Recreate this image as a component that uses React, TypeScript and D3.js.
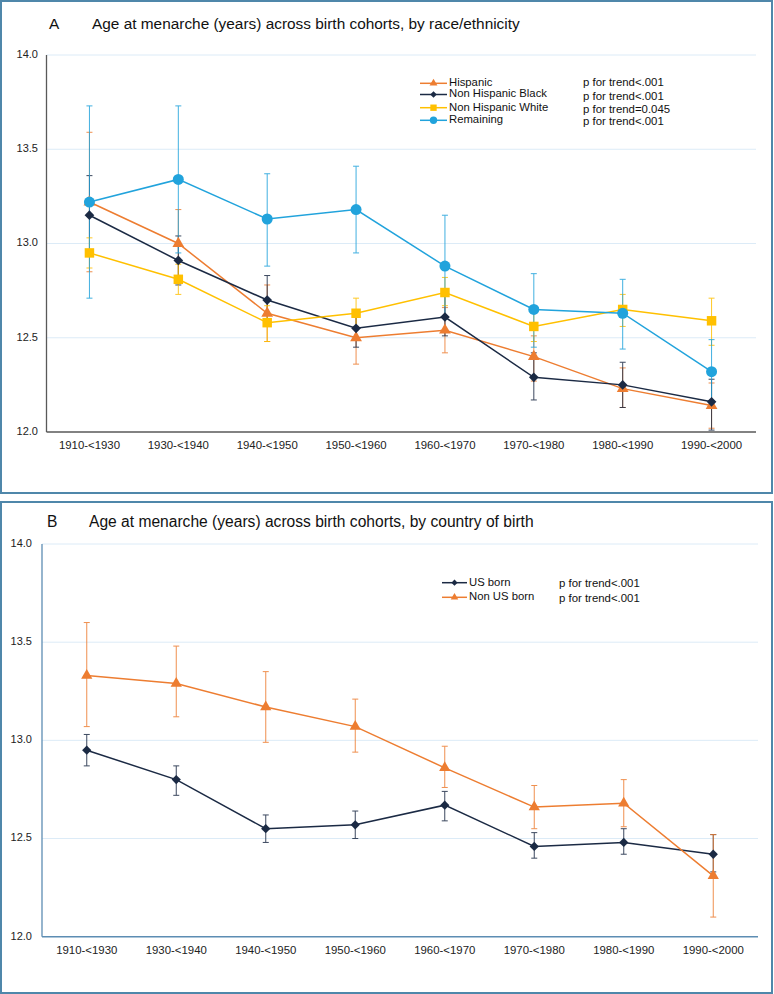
import React from "react";
import * as d3 from "d3";

// Birth cohorts shared by both panels
const cohorts = [
  "1910-<1930",
  "1930-<1940",
  "1940-<1950",
  "1950-<1960",
  "1960-<1970",
  "1970-<1980",
  "1980-<1990",
  "1990-<2000",
];

const yTicks = [12.0, 12.5, 13.0, 13.5, 14.0];

// Panel A: race/ethnicity (mean age at menarche with 95% CI)
const hispanic = [13.22, 13.0, 12.63, 12.5, 12.54, 12.4, 12.23, 12.14];
const hispanicLo = [12.85, 12.83, 12.48, 12.36, 12.42, 12.27, 12.13, 12.02];
const hispanicHi = [13.59, 13.18, 12.78, 12.64, 12.66, 12.51, 12.34, 12.26];

const nhBlack = [13.15, 12.91, 12.7, 12.55, 12.61, 12.29, 12.25, 12.16];
const nhBlackLo = [12.94, 12.78, 12.56, 12.45, 12.51, 12.17, 12.13, 12.01];
const nhBlackHi = [13.36, 13.04, 12.83, 12.64, 12.72, 12.42, 12.37, 12.28];

const nhWhite = [12.95, 12.81, 12.58, 12.63, 12.74, 12.56, 12.65, 12.59];
const nhWhiteLo = [12.87, 12.73, 12.48, 12.56, 12.67, 12.48, 12.56, 12.46];
const nhWhiteHi = [13.03, 12.89, 12.67, 12.71, 12.82, 12.64, 12.73, 12.71];

const remaining = [13.22, 13.34, 13.13, 13.18, 12.88, 12.65, 12.63, 12.32];
const remainingLo = [12.71, 12.95, 12.88, 12.95, 12.61, 12.45, 12.44, 12.14];
const remainingHi = [13.73, 13.73, 13.37, 13.41, 13.15, 12.84, 12.81, 12.49];

const trendA = ["p for trend<.001", "p for trend<.001", "p for trend=0.045", "p for trend<.001"];

// Panel B: country of birth
const usBorn = [12.95, 12.8, 12.55, 12.57, 12.67, 12.46, 12.48, 12.42];
const usBornLo = [12.87, 12.72, 12.48, 12.5, 12.59, 12.4, 12.42, 12.33];
const usBornHi = [13.03, 12.87, 12.62, 12.64, 12.74, 12.53, 12.55, 12.52];

const nonUsBorn = [13.33, 13.29, 13.17, 13.07, 12.86, 12.66, 12.68, 12.31];
const nonUsBornLo = [13.07, 13.12, 12.99, 12.94, 12.76, 12.55, 12.56, 12.1];
const nonUsBornHi = [13.6, 13.48, 13.35, 13.21, 12.97, 12.77, 12.8, 12.52];

const trendB = ["p for trend<.001", "p for trend<.001"];

type Series = {
  name: string;
  color: string;
  symbol: d3.SymbolType;
  size: number;
  values: number[];
  lo: number[];
  hi: number[];
};

const ORANGE = "#ed7d31";
const NAVY = "#1b2a44";
const YELLOW = "#ffc000";
const BLUE = "#21a3dc";

const seriesA: Series[] = [
  { name: "Hispanic", color: ORANGE, symbol: d3.symbolTriangle, size: 60, values: hispanic, lo: hispanicLo, hi: hispanicHi },
  { name: "Non Hispanic Black", color: NAVY, symbol: d3.symbolDiamond2, size: 60, values: nhBlack, lo: nhBlackLo, hi: nhBlackHi },
  { name: "Non Hispanic White", color: YELLOW, symbol: d3.symbolSquare, size: 90, values: nhWhite, lo: nhWhiteLo, hi: nhWhiteHi },
  { name: "Remaining", color: BLUE, symbol: d3.symbolCircle, size: 95, values: remaining, lo: remainingLo, hi: remainingHi },
];

const seriesB: Series[] = [
  { name: "US born", color: NAVY, symbol: d3.symbolDiamond2, size: 55, values: usBorn, lo: usBornLo, hi: usBornHi },
  { name: "Non US born", color: ORANGE, symbol: d3.symbolTriangle, size: 55, values: nonUsBorn, lo: nonUsBornLo, hi: nonUsBornHi },
];

const FONT = "'Liberation Sans', Arial, Helvetica, sans-serif";
const FRAME = "#4f87aa";
const GRID = "#dcebf7";

type PanelProps = {
  letter: string;
  title: string;
  frameTop: number;
  frameBottom: number;
  titleY: number;
  titleSize: number;
  letterX: number;
  titleX: number;
  xRange: [number, number];
  axisX: number;
  yRange: [number, number];
  yLabelX: number;
  axisColor: string;
  series: Series[];
  trends: string[];
  legend: { lineX0: number; lineX1: number; textX: number; rowY: number[]; pX: number; pY: number[] };
};

function Panel(p: PanelProps) {
  const x = d3.scalePoint<string>().domain(cohorts).range(p.xRange).padding(0.5);
  const y = d3.scaleLinear().domain([12, 14]).range(p.yRange);
  const line = d3
    .line<number>()
    .x((_, i) => x(cohorts[i]) as number)
    .y((v) => y(v));
  const cap = 3;

  return (
    <g>
      <rect
        x={1}
        y={p.frameTop}
        width={771}
        height={p.frameBottom - p.frameTop}
        fill="#fff"
        stroke={FRAME}
        strokeWidth={2}
      />
      <text x={p.letterX} y={p.titleY} fontFamily={FONT} fontSize={p.titleSize} fill="#111" dominantBaseline="middle">
        {p.letter}
      </text>
      <text x={p.titleX} y={p.titleY} fontFamily={FONT} fontSize={p.titleSize} fill="#111" dominantBaseline="middle">
        {p.title}
      </text>

      {/* horizontal gridlines and y tick labels */}
      {yTicks.map((t) => (
        <g key={t}>
          {t > 12 && (
            <line x1={p.axisX} x2={p.xRange[1]} y1={y(t)} y2={y(t)} stroke={GRID} strokeWidth={1} />
          )}
          <text
            x={p.yLabelX}
            y={y(t)}
            fontFamily={FONT}
            fontSize={11}
            fill="#222"
            textAnchor="end"
            dominantBaseline="middle"
          >
            {d3.format(".1f")(t)}
          </text>
        </g>
      ))}

      {/* axes */}
      <line x1={p.axisX} x2={p.axisX} y1={y(14)} y2={y(12)} stroke={p.axisColor} strokeWidth={1.3} />
      <line x1={p.axisX} x2={p.xRange[1]} y1={y(12)} y2={y(12)} stroke={p.axisColor} strokeWidth={1.5} />
      {cohorts.map((c) => (
        <text
          key={c}
          x={x(c)}
          y={y(12) + 14}
          fontFamily={FONT}
          fontSize={11.4}
          fill="#222"
          textAnchor="middle"
          dominantBaseline="middle"
        >
          {c}
        </text>
      ))}

      {/* error bars */}
      {p.series.map((s) => (
        <g key={s.name + "-err"} stroke={s.color} strokeWidth={1} opacity={0.85}>
          {cohorts.map((c, i) => {
            const cx = x(c) as number;
            return (
              <g key={c}>
                <line x1={cx} x2={cx} y1={y(s.lo[i])} y2={y(s.hi[i])} />
                <line x1={cx - cap} x2={cx + cap} y1={y(s.hi[i])} y2={y(s.hi[i])} />
                <line x1={cx - cap} x2={cx + cap} y1={y(s.lo[i])} y2={y(s.lo[i])} />
              </g>
            );
          })}
        </g>
      ))}

      {/* lines and markers */}
      {p.series.map((s) => (
        <g key={s.name}>
          <path d={line(s.values) || ""} fill="none" stroke={s.color} strokeWidth={1.5} />
          {s.values.map((v, i) => (
            <path
              key={i}
              transform={`translate(${x(cohorts[i])},${y(v)})`}
              d={d3.symbol().type(s.symbol).size(s.size)() || ""}
              fill={s.color}
            />
          ))}
        </g>
      ))}

      {/* legend */}
      {p.series.map((s, i) => {
        const ly = p.legend.rowY[i];
        const mx = (p.legend.lineX0 + p.legend.lineX1) / 2;
        return (
          <g key={s.name + "-leg"}>
            <line x1={p.legend.lineX0} x2={p.legend.lineX1} y1={ly} y2={ly} stroke={s.color} strokeWidth={1.5} />
            <path
              transform={`translate(${mx},${ly})`}
              d={d3.symbol().type(s.symbol).size(s.size * 0.45)() || ""}
              fill={s.color}
            />
            <text x={p.legend.textX} y={ly} fontFamily={FONT} fontSize={11.3} fill="#111" dominantBaseline="middle">
              {s.name}
            </text>
            <text x={p.legend.pX} y={p.legend.pY[i]} fontFamily={FONT} fontSize={11.4} fill="#111" dominantBaseline="middle">
              {p.trends[i]}
            </text>
          </g>
        );
      })}
    </g>
  );
}

export default function App() {
  return (
    <svg
      width={774}
      height={994}
      viewBox="0 0 774 994"
      style={{ position: "absolute", left: 0, top: 0, background: "#fff" }}
    >
      <rect x={0} y={0} width={774} height={994} fill="#fff" />
      <Panel
        letter="A"
        title="Age at menarche (years) across birth cohorts, by race/ethnicity"
        frameTop={1}
        frameBottom={493}
        titleY={25}
        titleSize={15.4}
        letterX={49}
        titleX={92}
        xRange={[45, 756]}
        axisX={46.5}
        yRange={[432, 55]}
        yLabelX={38}
        axisColor="#595959"
        series={seriesA}
        trends={trendA}
        legend={{ lineX0: 420, lineX1: 447, textX: 449, rowY: [83.3, 94.5, 107.7, 120.3], pX: 583, pY: [83.3, 96.7, 110, 122.3] }}
      />
      <Panel
        letter="B"
        title="Age at menarche (years) across birth cohorts, by country of birth"
        frameTop={502}
        frameBottom={993}
        titleY={523}
        titleSize={15.6}
        letterX={47}
        titleX={89}
        xRange={[42, 758]}
        axisX={42}
        yRange={[936.7, 544]}
        yLabelX={32}
        axisColor="#5d8db3"
        series={seriesB}
        trends={trendB}
        legend={{ lineX0: 442, lineX1: 467, textX: 469, rowY: [582.7, 597.3], pX: 559, pY: [584.3, 599] }}
      />
    </svg>
  );
}
